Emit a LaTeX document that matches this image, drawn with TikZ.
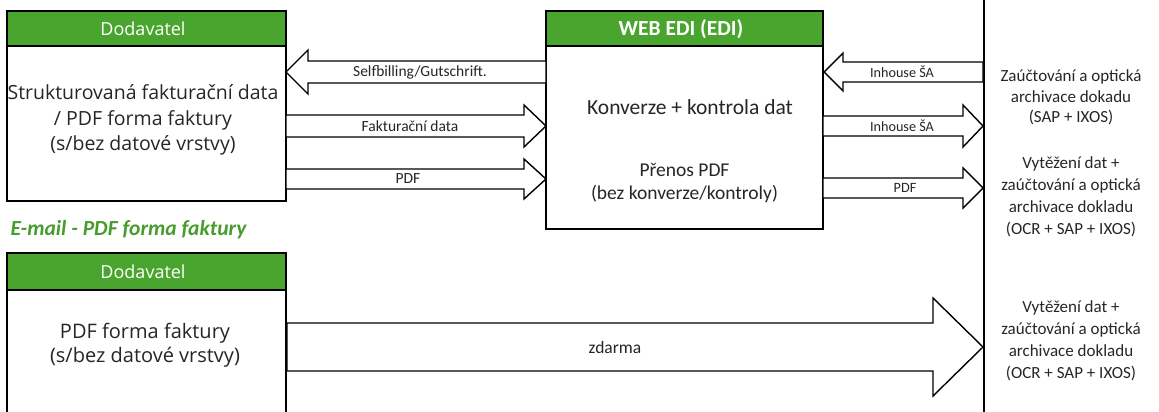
\documentclass[tikz,border=0pt]{standalone}
\usepackage{fontspec}
\setmainfont{Carlito}
\newfontfamily\boxfont{Open Sans}
\definecolor{hdrgreen}{RGB}{74,165,46}
\definecolor{txtgreen}{RGB}{72,155,45}
\tikzset{
  frame/.style={draw=black, line width=1.7pt, fill=white},
  header/.style={draw=black, line width=1.7pt, fill=hdrgreen},
  arrowbox/.style={draw=black, line width=1.4pt, fill=white, line join=miter},
  hdrtext/.style={text=white, font=\boxfont\fontsize{18}{20}\selectfont},
  boxtext/.style={align=center, text=black!85, font=\boxfont\fontsize{19.5}{25.5}\selectfont},
  lbl/.style={font=\fontsize{15.5}{17}\selectfont, text=black!85},
  smalllbl/.style={font=\fontsize{14.2}{16}\selectfont, text=black!85},
  side/.style={align=center, text=black!85, font=\fontsize{17}{22}\selectfont},
}
% block arrow: tail x, head-base x, tip x, centre y, shaft half height, head half height
\newcommand{\blockarrow}[7][]{%
  \draw[arrowbox,#1] (#2,#5-#6) -- (#3,#5-#6) -- (#3,#5-#7) -- (#4,#5)
    -- (#3,#5+#7) -- (#3,#5+#6) -- (#2,#5+#6) -- cycle;}
\begin{document}
\begin{tikzpicture}[x=1pt,y=-1pt]
\useasboundingbox (0,0) rectangle (1159,412);

% separator toward the receiving side
\draw[line width=1.5pt] (984,-2) coordinate (sepT) -- (984,414) coordinate (sepB);

% supplier box (EDI channel)
\draw[frame] (7,11) rectangle (286,201);
\draw[header] (7,11) rectangle (286,46);
\node[hdrtext] (dod1) at (143,28.5) {Dodavatel};
\node[boxtext] (dod1t) at (143,120) {Strukturovaná fakturační data\\/ PDF forma faktury\\(s/bez datové vrstvy)};

% WEB EDI box
\draw[frame] (546,11) rectangle (823,229);
\draw[header] (546,11) rectangle (823,46);
\node[text=white, font=\bfseries\fontsize{21.5}{24}\selectfont] (edi) at (681,29) {WEB EDI (EDI)};
\node[text=black!85, font=\fontsize{21.5}{24}\selectfont] (conv) at (690,107) {Konverze + kontrola dat};
\node[align=center, text=black!85, font=\fontsize{19.5}{23.5}\selectfont] (pren) at (684.5,183) {Přenos PDF\\(bez konverze/kontroly)};

% arrows between supplier and WEB EDI
\blockarrow{546}{308}{286}{72}{11}{22}
\node[lbl] (a1) at (420,72) {Selfbilling/Gutschrift.};
\blockarrow{286}{524}{546}{126}{11}{21}
\node[lbl] (a2) at (410,126) {Fakturační data};
\blockarrow{286}{524}{546}{179}{10}{20}
\node[lbl] (a3) at (408,179) {PDF};

% arrows between WEB EDI and the receiving side
\blockarrow{983}{843}{824}{72}{10}{19}
\node[smalllbl] (a4) at (902,72) {Inhouse ŠA};
\blockarrow{823}{963}{983}{126}{10}{21}
\node[smalllbl] (a5) at (902,126) {Inhouse ŠA};
\blockarrow{823}{963}{983}{188}{10}{20}
\node[smalllbl] (a6) at (905,188) {PDF};

% receiving side texts
\node[side, font=\fontsize{17}{20.5}\selectfont] (r1) at (1071,97.5) {Zaúčtování a optická\\archivace dokadu\\(SAP + IXOS)};
\node[side] (r2) at (1071,196.5) {Vytěžení dat +\\zaúčtování a optická\\archivace dokladu\\(OCR + SAP + IXOS)};

% e-mail channel
\node[anchor=west, text=txtgreen, font=\bfseries\itshape\fontsize{21.5}{24}\selectfont] (mail) at (7,230) {E-mail - PDF forma faktury};
\draw[frame] (7,253) rectangle (286,416);
\draw[header] (7,253) rectangle (286,290);
\node[hdrtext] (dod2) at (143,272) {Dodavatel};
\node[boxtext, font=\boxfont\fontsize{20}{24}\selectfont] (dod2t) at (145,345) {PDF forma faktury\\(s/bez datové vrstvy)};

\blockarrow{287}{933}{983}{347}{24}{49}
\node[text=black!85, font=\fontsize{17.5}{20}\selectfont] (a7) at (615,347) {zdarma};
\node[side] (r3) at (1071,340.5) {Vytěžení dat +\\zaúčtování a optická\\archivace dokladu\\(OCR + SAP + IXOS)};
\end{tikzpicture}
\end{document}
